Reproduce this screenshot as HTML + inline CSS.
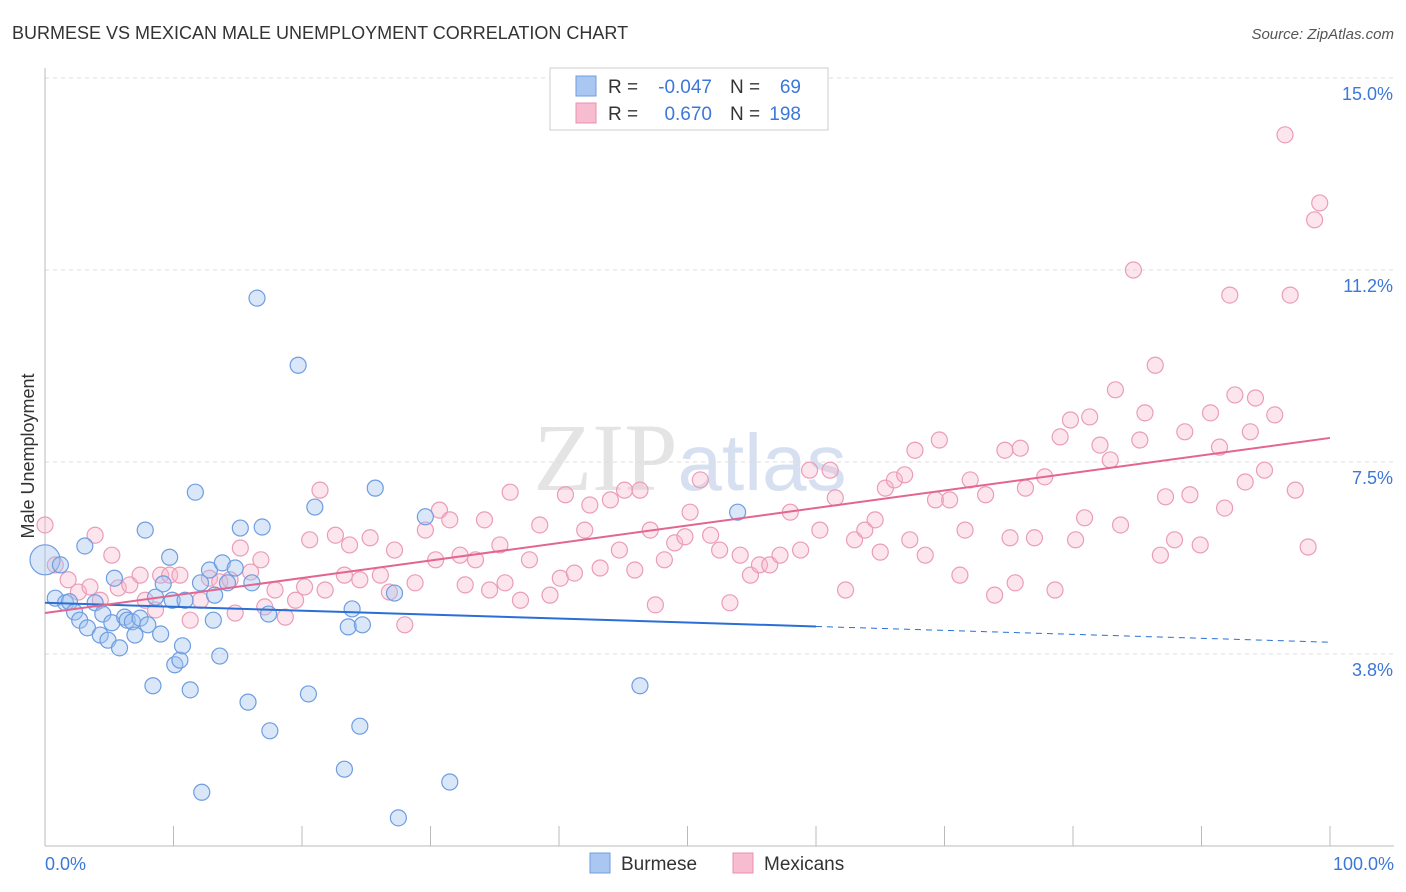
<!DOCTYPE html>
<html><head><meta charset="utf-8">
<style>
body{margin:0;background:#fff;font-family:"Liberation Sans",sans-serif;}
svg{display:block}
</style></head>
<body>
<svg id="chart" width="1406" height="892" viewBox="0 0 1406 892" xmlns="http://www.w3.org/2000/svg">
<text x="12" y="39" font-size="18" fill="#333">BURMESE VS MEXICAN MALE UNEMPLOYMENT CORRELATION CHART</text>
<text x="1394" y="39" font-size="15" fill="#555" font-style="italic" text-anchor="end">Source: ZipAtlas.com</text>
<text x="690" y="490" font-size="96" fill="#e4e4e4" text-anchor="middle" font-family="Liberation Serif">ZIP<tspan fill="#d6e0f0" font-family="Liberation Sans" font-size="80">atlas</tspan></text>
<text transform="translate(34,456) rotate(-90)" font-size="18" fill="#333" text-anchor="middle">Male Unemployment</text>
<g id="grid"></g>
<g id="marks"></g>
<g id="legend">
<rect x="550" y="68" width="278" height="62" fill="#fff" stroke="#ccc"/>
<rect x="576" y="76" width="20" height="20" fill="#a9c7f0" stroke="#6f9de0"/>
<rect x="576" y="103" width="20" height="20" fill="#f8bcd0" stroke="#e890ae"/>
<text x="608" y="93" font-size="19" fill="#333">R =</text>
<text x="712" y="93" font-size="19" fill="#3b78d8" text-anchor="end">-0.047</text>
<text x="730" y="93" font-size="19" fill="#333">N =</text>
<text x="801" y="93" font-size="19" fill="#3b78d8" text-anchor="end">69</text>
<text x="608" y="120" font-size="19" fill="#333">R =</text>
<text x="712" y="120" font-size="19" fill="#3b78d8" text-anchor="end">0.670</text>
<text x="730" y="120" font-size="19" fill="#333">N =</text>
<text x="801" y="120" font-size="19" fill="#3b78d8" text-anchor="end">198</text>
</g>
<g>
<rect x="590" y="853" width="20" height="20" fill="#a9c7f0" stroke="#6f9de0"/>
<text x="621" y="870" font-size="19" fill="#333">Burmese</text>
<rect x="733" y="853" width="20" height="20" fill="#f8bcd0" stroke="#e890ae"/>
<text x="764" y="870" font-size="19" fill="#333">Mexicans</text>
</g>
</svg>
<script>
const yTicks=[3.75,7.5,11.25,15];
const yTickLabels=["3.8%","7.5%","11.2%","15.0%"];
const xEndLabels=["0.0%","100.0%"];
const burmeseX=[0,0.8,1.2,1.6,1.9,2.3,2.7,3.1,3.3,3.9,4.3,4.5,4.9,5.2,5.4,5.8,6.2,6.4,6.8,7.0,7.4,7.8,8.0,8.4,8.6,9.0,9.2,9.7,9.9,10.1,10.5,10.7,10.9,11.3,11.7,12.1,12.2,12.8,13.1,13.2,13.6,13.8,14.2,14.8,15.2,15.8,16.1,16.5,16.9,17.4,17.5,19.7,20.5,21.0,23.3,23.6,23.9,24.7,24.5,25.7,27.2,27.5,29.6,31.5,46.3,53.9];
const burmeseY=[5.59,4.84,5.49,4.75,4.77,4.57,4.41,5.86,4.26,4.75,4.12,4.53,4.02,4.36,5.23,3.87,4.47,4.41,4.38,4.12,4.45,6.17,4.32,3.13,4.86,4.14,5.12,5.64,4.80,3.54,3.63,3.91,4.80,3.05,6.91,5.14,1.05,5.39,4.41,4.90,3.71,5.53,5.14,5.43,6.21,2.81,5.14,10.70,6.23,4.53,2.25,9.39,2.97,6.62,1.50,4.28,4.63,4.32,2.34,6.99,4.94,0.55,6.43,1.25,3.13,6.52];
const mexX=[0,0.8,1.8,2.6,3.5,3.9,4.3,5.2,5.7,6.6,7.4,7.8,8.6,9.0,9.7,10.5,11.3,12.1,12.8,13.6,14.4,14.8,15.2,16.0,16.8,17.1,17.9,18.7,19.5,20.2,20.6,21.4,21.8,22.6,23.3,23.7,24.5,25.3,26.1,26.8,27.2,28.0,28.8,29.6,30.4,30.7,31.5,32.3,32.7,33.5,34.2,34.6,35.4,35.8,36.2,37.0,37.7,38.5,39.3,40.1,40.5,41.2,42.0,42.4,43.2,44.0,44.7,45.1,45.9,46.3,47.1,47.5,48.2,49.0,49.8,50.2,51.0,51.8,52.5,53.3,54.1,54.9,55.6,56.4,57.2,58.0,58.8,59.5,60.3,61.1,61.5,62.3,63.0,63.8,64.6,65.0,65.4,66.1,66.9,67.3,67.7,68.5,69.3,69.6,70.4,71.2,71.6,72.0,73.2,73.9,74.7,75.1,75.5,75.9,76.3,77.0,77.8,78.6,79.0,79.8,80.2,80.9,81.3,82.1,82.9,83.3,83.7,84.7,85.2,85.6,86.4,86.8,87.2,87.9,88.7,89.1,89.9,90.7,91.4,91.8,92.2,92.6,93.4,93.8,94.2,94.9,95.7,96.5,96.9,97.3,98.3,98.8,99.2];
const mexY=[6.27,5.49,5.20,4.96,5.06,6.07,4.80,5.68,5.04,5.10,5.29,4.80,4.61,5.29,5.29,5.29,4.41,4.80,5.23,5.16,5.20,4.55,5.82,5.35,5.59,4.67,5.00,4.47,4.80,5.06,5.98,6.95,5.00,6.07,5.29,5.88,5.20,6.02,5.29,4.96,5.78,4.32,5.14,6.17,5.59,6.56,6.37,5.68,5.10,5.59,6.37,5.00,5.88,5.14,6.91,4.80,5.59,6.27,4.90,5.23,6.86,5.33,6.17,6.66,5.43,6.76,5.78,6.95,5.39,6.95,6.17,4.71,5.59,5.92,6.04,6.52,7.15,6.07,5.78,4.75,5.68,5.29,5.49,5.49,5.68,6.52,5.78,7.34,6.17,7.34,6.80,5.00,5.98,6.17,6.37,5.74,6.99,7.15,7.25,5.98,7.73,5.68,6.76,7.93,6.76,5.29,6.17,7.15,6.86,4.90,7.73,6.02,5.14,7.77,6.99,6.02,7.21,5.00,7.99,8.32,5.98,6.41,8.38,7.83,7.54,8.91,6.27,11.25,7.93,8.46,9.39,5.68,6.82,5.98,8.09,6.86,5.88,8.46,7.79,6.60,10.76,8.81,7.11,8.09,8.75,7.34,8.42,13.89,10.76,6.95,5.84,12.23,12.56];
const burmeseTrend=[4.75,3.98];
const mexTrend=[4.55,7.97];
const NS="http://www.w3.org/2000/svg";
const X=v=>45+v*12.85, Y=v=>846-v*51.2;
function mk(t,a,p){const e=document.createElementNS(NS,t);for(const k in a)e.setAttribute(k,a[k]);p.appendChild(e);return e;}
const grid=document.getElementById('grid'), marks=document.getElementById('marks');
yTicks.forEach((t,i)=>{
 const l=mk('line',{x1:45,x2:1394,y1:Y(t),y2:Y(t),stroke:'#ddd','stroke-dasharray':'4,4'},grid);
 
 
 const tx=mk('text',{x:1393,y:Y(t)+22,'font-size':18,fill:'#3b78d8','text-anchor':'end'},grid);
 tx.textContent=yTickLabels[i];
 
 
});
const yax=mk('line',{x1:45,x2:45,y1:68,y2:846,stroke:'#bbb'},grid);


const xax=mk('line',{x1:45,x2:1394,y1:846,y2:846,stroke:'#bbb'},grid);


for(let i=0;i<=10;i++){const t=mk('line',{x1:X(i*10),x2:X(i*10),y1:826,y2:846,stroke:'#bbb'},grid);
 
 }
[[0,'start',45],[100,'end',1394]].forEach((d,i)=>{const t=mk('text',{x:d[2],y:870,'font-size':18,fill:'#3b78d8','text-anchor':d[1]},grid);t.textContent=xEndLabels[i];
 
 });
mexX.forEach((x,i)=>{const c=mk('circle',{cx:X(x),cy:Y(mexY[i]),r:8,fill:'rgba(248,180,202,0.35)',stroke:'#eb9cb8','stroke-width':1.2},marks);
 
 });
burmeseX.forEach((x,i)=>{const c=mk('circle',{cx:X(x),cy:Y(burmeseY[i]),r:i==0?15:8,fill:'rgba(160,195,240,0.4)',stroke:'#6f9de0','stroke-width':1.2},marks);
 
 });
const bAt=v=>burmeseTrend[0]+(burmeseTrend[1]-burmeseTrend[0])*v/100;
const b1=mk('line',{x1:X(0),y1:Y(bAt(0)),x2:X(60),y2:Y(bAt(60)),stroke:'#2a6fd6','stroke-width':2},marks);


const b2=mk('line',{x1:X(60),y1:Y(bAt(60)),x2:X(100),y2:Y(bAt(100)),stroke:'#2a6fd6','stroke-width':1,'stroke-dasharray':'6,5'},marks);


const m1=mk('line',{x1:X(0),y1:Y(mexTrend[0]),x2:X(100),y2:Y(mexTrend[1]),stroke:'#e2668f','stroke-width':2},marks);


</script>
</body></html>
